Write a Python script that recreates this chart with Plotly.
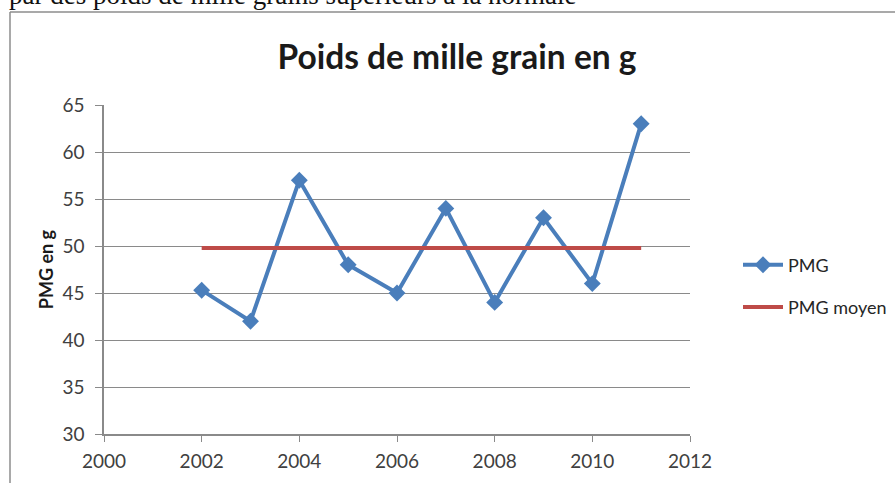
import plotly.graph_objects as go

years = [2002, 2003, 2004, 2005, 2006, 2007, 2008, 2009, 2010, 2011]
pmg = [45.3, 42, 57, 48, 45, 54, 44, 53, 46, 63]
pmg_moyen = [49.8] * len(years)

x_ticks = [2000, 2002, 2004, 2006, 2008, 2010, 2012]
y_ticks = [30, 35, 40, 45, 50, 55, 60, 65]

W, H = 895, 483
L, R, T, B = 104, 205, 105, 49
pw, ph = W - L - R, H - T - B

def px_x(x):
    return (x - L) / pw

def px_y(y):
    return (H - B - y) / ph

font_fam = "Lato, Open Sans, sans-serif"
tick_col = "#404040"
grid_col = "#8a8a8a"

fig = go.Figure()
fig.add_trace(go.Scatter(
    x=years, y=pmg, name="PMG", mode="lines+markers",
    line=dict(color="#4a7ebb", width=4),
    marker=dict(symbol="diamond", size=13, color="#4a7ebb"),
    legendgroup="a",
))
fig.add_trace(go.Scatter(
    x=years, y=pmg_moyen, name="PMG moyen", mode="lines",
    line=dict(color="#be4b48", width=4),
    legendgroup="b",
))

fig.update_layout(
    width=W, height=H,
    margin=dict(l=L, r=R, t=T, b=B, autoexpand=False),
    paper_bgcolor="white", plot_bgcolor="white",
    showlegend=True,
    legend=dict(x=px_x(738), y=px_y(286), xanchor="left", yanchor="middle",
                font=dict(family=font_fam, size=18, color="#262626"),
                traceorder="grouped", tracegroupgap=16, itemwidth=40),
    title=dict(text="<b>Poids de mille grain en g</b>", x=(457 - L) / pw, xref="paper",
               xanchor="center", y=1 - 57 / H, yanchor="middle",
               font=dict(family=font_fam, size=33.5, color="#1a1a1a")),
    xaxis=dict(range=[2000, 2012], tickvals=x_ticks, showgrid=False,
               showline=True, linecolor=grid_col, linewidth=1.5,
               ticks="outside", ticklen=6, tickcolor=grid_col, ticklabelstandoff=3,
               tickfont=dict(family=font_fam, size=19, color=tick_col), zeroline=False),
    yaxis=dict(range=[30, 65], tickvals=y_ticks, showgrid=True, gridcolor=grid_col, gridwidth=1,
               showline=True, linecolor=grid_col, linewidth=1.5,
               ticks="outside", ticklen=7, tickcolor=grid_col, ticklabelstandoff=7,
               tickfont=dict(family=font_fam, size=19, color=tick_col), zeroline=False,
               title=dict(text="<b>PMG en g</b>", standoff=4,
                          font=dict(family=font_fam, size=18, color="#1a1a1a"))),
    shapes=[
        dict(type="line", xref="paper", yref="paper", x0=px_x(10), x1=px_x(910),
             y0=px_y(12), y1=px_y(12), line=dict(color="#8c8c8c", width=1.5)),
        dict(type="line", xref="paper", yref="paper", x0=px_x(10), x1=px_x(10),
             y0=px_y(12), y1=px_y(500), line=dict(color="#8c8c8c", width=1.5)),
    ],
    annotations=[
        dict(text="par des poids de mille grains supérieurs à la normale", xref="paper", yref="paper",
             x=px_x(7), y=px_y(-5), xanchor="left", yanchor="middle", showarrow=False,
             font=dict(family="Liberation Serif, serif", size=27, color="#111111")),
    ],
)

fig.write_html("out.html", post_script="document.body.style.margin='0';",
               config={"displayModeBar": False})
